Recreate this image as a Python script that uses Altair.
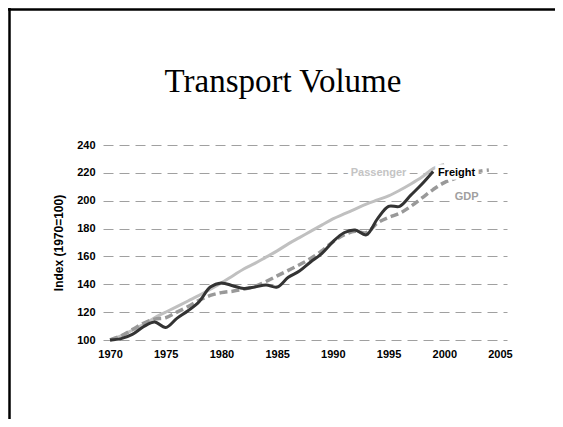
import altair as alt
import pandas as pd

# ---- data ----
passenger_years = list(range(1970, 2001))
passenger = [100, 103, 107, 111, 116, 120, 124, 128, 132, 136.5, 141, 146, 151, 155,
             159.5, 164, 169, 173.5, 178, 182.5, 187, 190.5, 194, 197.5, 200.5, 203.5,
             207.5, 212, 217, 223, 226]

freight_years = list(range(1970, 2000))
freight = [100, 101, 104, 109.5, 113, 109, 115.5, 121, 127.5, 138, 141, 139, 137, 138,
           139.5, 138, 145, 149.5, 156, 162, 170.5, 177, 179, 175.5, 187, 196, 196,
           204, 212, 221]

gdp_years = list(range(1970, 2005))
gdp = [100, 103, 107.5, 112, 115, 116, 120, 124, 128.5, 132, 134, 135, 136.5, 138.5,
       142, 146, 150, 154, 158.5, 164, 170.5, 175.5, 178, 177, 184, 188, 191, 196,
       202, 208, 213, 216, 219, 221, 222]

label_names = ["Passenger", "Freight", "GDP"]
label_years = [1994.1, 2001.1, 2002.0]
label_values = [220, 220, 203]
label_colors = ["#c4c4c4", "#000000", "#a0a0a0"]

x_ticks = [1970, 1975, 1980, 1985, 1990, 1995, 2000, 2005]
y_ticks = [100, 120, 140, 160, 180, 200, 220, 240]

title_text = "Transport Volume"
y_title = "Index (1970=100)"

rows = []
for y, v in zip(passenger_years, passenger):
    rows.append({"year": y, "value": v, "series": "Passenger"})
for y, v in zip(freight_years, freight):
    rows.append({"year": y, "value": v, "series": "Freight"})
for y, v in zip(gdp_years, gdp):
    rows.append({"year": y, "value": v, "series": "GDP"})
df = pd.DataFrame(rows)

labels = pd.DataFrame({"name": label_names, "year": label_years,
                       "value": label_values, "color": label_colors})

W, H = 404, 195
PAD = {"left": 95, "top": 137, "right": 48, "bottom": 79}

xscale = alt.Scale(domain=[1969.37, 2005.63], nice=False, zero=False)
yscale = alt.Scale(domain=[100, 240], nice=False, zero=False)

xaxis = alt.Axis(values=x_ticks, format="d", title=None, domain=False, ticks=False,
                 grid=False, labelFont="Liberation Sans", labelFontWeight="bold",
                 labelFontSize=11, labelColor="#000000", labelPadding=8)
yaxis = alt.Axis(values=y_ticks, title=None, domain=False, ticks=False, grid=True,
                 gridDash=[10, 6], gridColor="#a0a0a0", gridWidth=1,
                 labelFont="Liberation Sans", labelFontWeight="bold",
                 labelFontSize=11, labelColor="#000000", labelPadding=8)

X = alt.X("year:Q", scale=xscale, axis=xaxis)
Y = alt.Y("value:Q", scale=yscale, axis=yaxis)

base = alt.Chart(df)


def line(series, color, width, dash=None):
    kw = dict(color=color, strokeWidth=width, interpolate="catmull-rom")
    if dash:
        kw["strokeDash"] = dash
    return base.transform_filter(alt.datum.series == series).mark_line(**kw).encode(x=X, y=Y)


pass_line = line("Passenger", "#c0c0c0", 3)
gdp_line = line("GDP", "#999999", 3.5, [8, 4])
freight_line = line("Freight", "#333333", 3)

lab_base = alt.Chart(labels)
lab_bg = lab_base.mark_text(font="Liberation Sans", fontWeight="bold", fontSize=11,
                            stroke="white", strokeWidth=7, fill="white",
                            align="center", baseline="middle").encode(
    x=X, y=Y, text="name:N")
lab_fg = lab_base.mark_text(font="Liberation Sans", fontWeight="bold", fontSize=11,
                            align="center", baseline="middle").encode(
    x=X, y=Y, text="name:N", color=alt.Color("color:N", scale=None))

title_mark = alt.Chart(pd.DataFrame({"t": [title_text]})).mark_text(
    font="Liberation Serif", fontSize=33, color="#000000",
    align="center", baseline="alphabetic").encode(
    x=alt.value(180), y=alt.value(-53), text="t:N")

ytitle_mark = alt.Chart(pd.DataFrame({"t": [y_title]})).mark_text(
    font="Liberation Sans", fontWeight="bold", fontSize=12, color="#000000",
    align="center", baseline="middle", angle=270).encode(
    x=alt.value(-44), y=alt.value(98), text="t:N")

frame_top = alt.Chart(pd.DataFrame({"a": [0]})).mark_rule(color="#000000", strokeWidth=2.5).encode(
    x=alt.value(-95), x2=alt.value(W + PAD["right"]), y=alt.value(-135.5))
frame_left = alt.Chart(pd.DataFrame({"a": [0]})).mark_rule(color="#000000", strokeWidth=2.5).encode(
    x=alt.value(-93.5), y=alt.value(-137), y2=alt.value(H + PAD["bottom"]))

chart = alt.layer(
    pass_line, gdp_line, freight_line, lab_bg, lab_fg,
    title_mark, ytitle_mark, frame_top, frame_left,
).properties(
    width=W, height=H, padding=PAD,
    autosize=alt.AutoSizeParams(type="none"),
).configure_view(stroke=None)

chart.save("out.html", embed_options={"renderer": "svg", "actions": False})
